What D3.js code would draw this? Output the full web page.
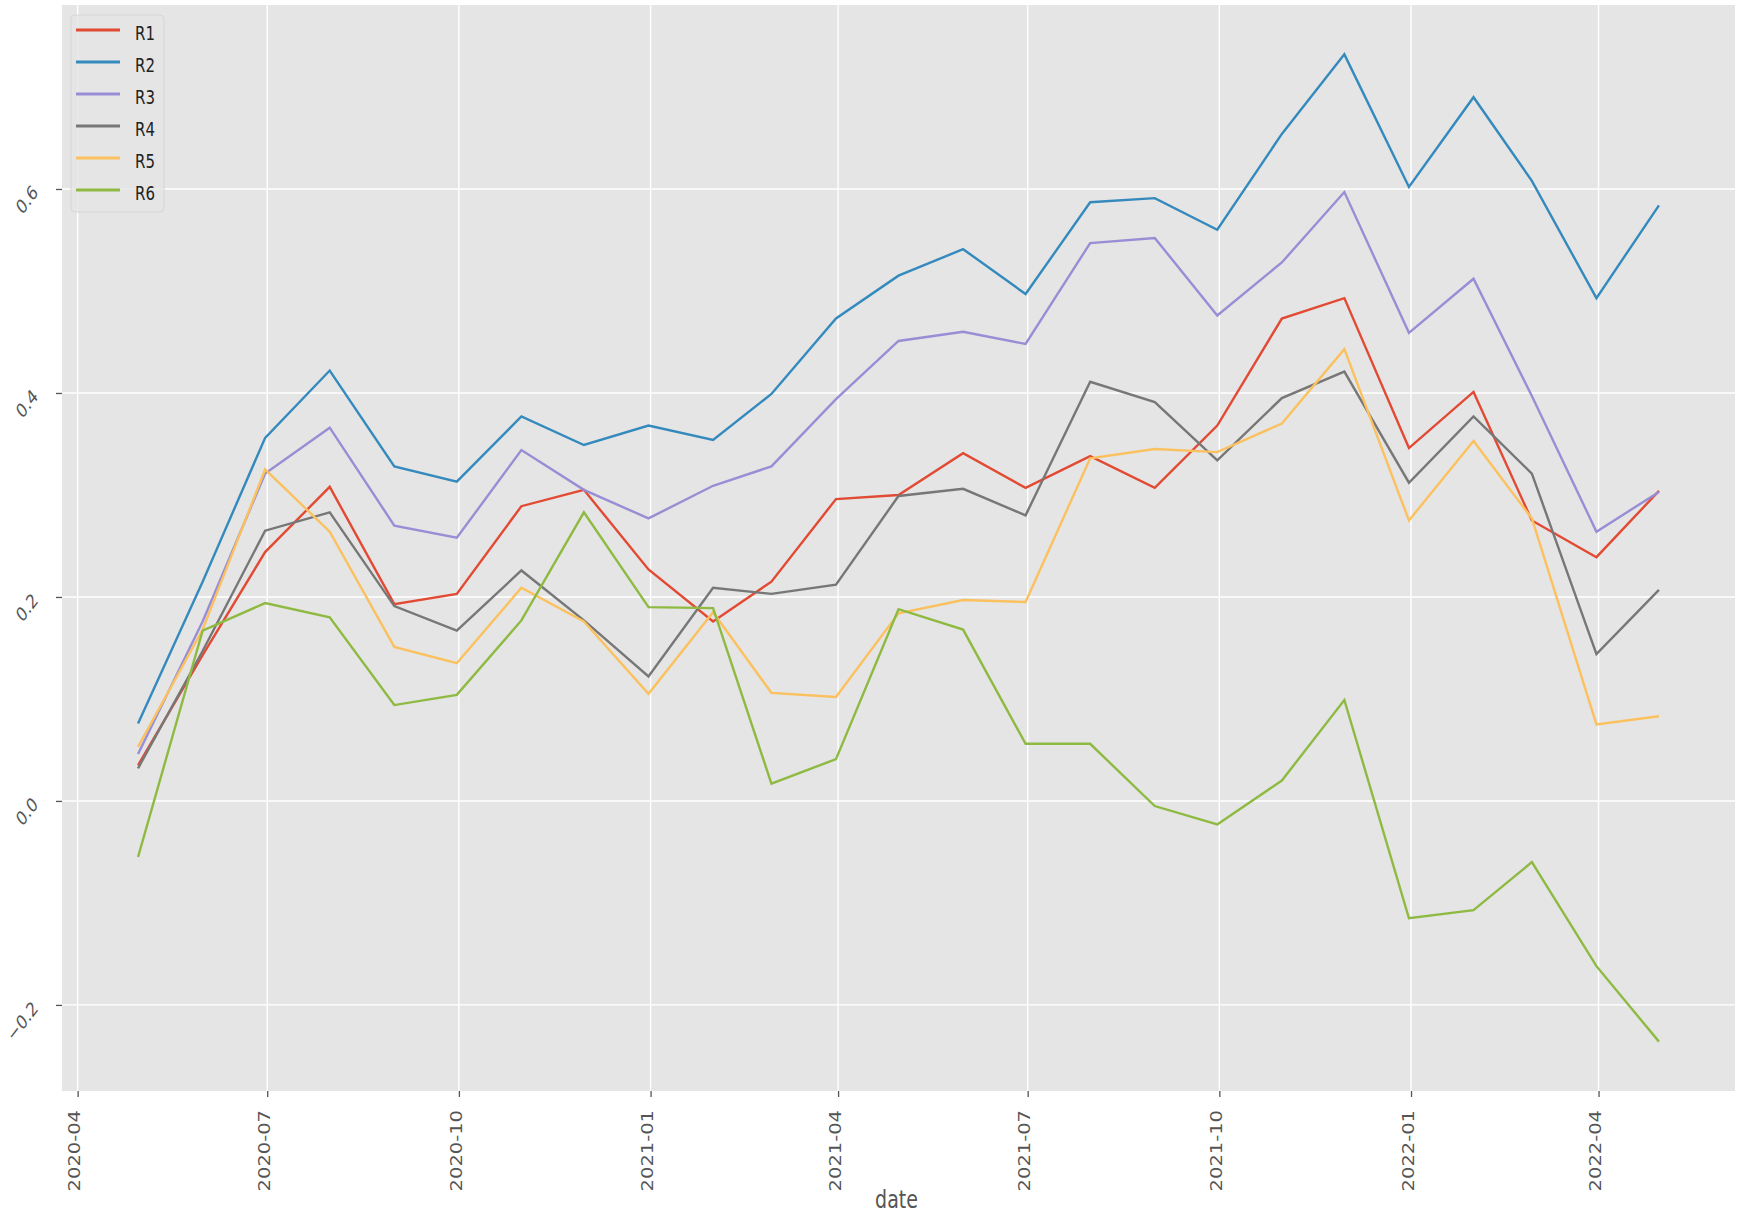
<!DOCTYPE html>
<html>
<head>
<meta charset="utf-8">
<script src="https://cdn.jsdelivr.net/npm/d3@7"></script>
<style>
  html, body { margin: 0; padding: 0; background: #ffffff; }
  svg { display: block; }
  text { font-family: "DejaVu Sans", sans-serif; }
</style>
</head>
<body>
<div id="chart"></div>
<script>
// ---------------- data ----------------
const dates = ["2020-04-30","2020-05-31","2020-06-30","2020-07-31","2020-08-31","2020-09-30",
  "2020-10-31","2020-11-30","2020-12-31","2021-01-31","2021-02-28","2021-03-31","2021-04-30",
  "2021-05-31","2021-06-30","2021-07-31","2021-08-31","2021-09-30","2021-10-31","2021-11-30",
  "2021-12-31","2022-01-31","2022-02-28","2022-03-31","2022-04-30"];

const seriesNames = ["R1","R2","R3","R4","R5","R6"];

const R1 = [0.035,0.143,0.244,0.308,0.193,0.203,0.289,0.305,0.227,0.176,0.215,0.296,0.300,
  0.341,0.307,0.338,0.307,0.368,0.473,0.493,0.346,0.401,0.275,0.239,0.304];
const R2 = [0.076,0.215,0.356,0.422,0.328,0.313,0.377,0.349,0.368,0.354,0.399,0.473,0.515,
  0.541,0.497,0.587,0.591,0.560,0.654,0.732,0.602,0.690,0.608,0.493,0.584];
const R3 = [0.046,0.176,0.321,0.366,0.270,0.258,0.344,0.305,0.277,0.309,0.328,0.394,0.451,
  0.460,0.448,0.547,0.552,0.476,0.528,0.597,0.459,0.512,0.397,0.264,0.303];
const R4 = [0.032,0.147,0.265,0.283,0.191,0.167,0.226,0.177,0.122,0.209,0.203,0.212,0.299,
  0.306,0.280,0.411,0.391,0.334,0.395,0.421,0.312,0.377,0.321,0.144,0.207];
const R5 = [0.053,0.168,0.325,0.264,0.151,0.135,0.209,0.176,0.105,0.185,0.106,0.102,0.184,
  0.197,0.195,0.336,0.345,0.342,0.370,0.443,0.275,0.353,0.277,0.075,0.083];
const R6 = [-0.055,0.167,0.194,0.180,0.094,0.104,0.177,0.283,0.190,0.189,0.017,0.041,0.188,
  0.168,0.056,0.056,-0.005,-0.023,0.020,0.099,-0.115,-0.107,-0.060,-0.162,-0.236];

const seriesValues = [R1, R2, R3, R4, R5, R6];
const colors = ["#E24A33","#348ABD","#988ED5","#777777","#FBC15E","#8EBA42"];

const xTickDates = ["2020-04-01","2020-07-01","2020-10-01","2021-01-01","2021-04-01",
  "2021-07-01","2021-10-01","2022-01-01","2022-04-01"];
const yTickValues = [-0.2, 0.0, 0.2, 0.4, 0.6];
const xLabel = "date";

// ---------------- layout ----------------
const W = 1746, H = 1220;
const plot = { left: 62, right: 1735, top: 5, bottom: 1091 };
const SY = 1.3; // vertical text stretch seen in the reference

const parse = d3.timeParse("%Y-%m-%d");
const xDates = dates.map(parse);

const svg = d3.select("#chart").append("svg")
  .attr("width", W).attr("height", H);

// scales with matplotlib-like 5% margins
const xExt = d3.extent(xDates);
const xPad = (xExt[1] - xExt[0]) * 0.05;
const x = d3.scaleTime()
  .domain([new Date(+xExt[0] - xPad), new Date(+xExt[1] + xPad)])
  .range([plot.left, plot.right]);

const allVals = seriesValues.flat();
const yMin = d3.min(allVals), yMax = d3.max(allVals);
const yPad = (yMax - yMin) * 0.05;
const y = d3.scaleLinear()
  .domain([yMin - yPad, yMax + yPad])
  .range([plot.bottom, plot.top]);

// background
svg.append("rect")
  .attr("x", plot.left).attr("y", plot.top)
  .attr("width", plot.right - plot.left).attr("height", plot.bottom - plot.top)
  .attr("fill", "#E5E5E5");

const xTicks = xTickDates.map(parse);

// grid
const grid = svg.append("g");
grid.selectAll("line.gx").data(xTicks).enter().append("line")
  .attr("x1", d => x(d)).attr("x2", d => x(d))
  .attr("y1", plot.top).attr("y2", plot.bottom)
  .attr("stroke", "#ffffff").attr("stroke-width", 1.4);
grid.selectAll("line.gy").data(yTickValues).enter().append("line")
  .attr("y1", d => y(d)).attr("y2", d => y(d))
  .attr("x1", plot.left).attr("x2", plot.right)
  .attr("stroke", "#ffffff").attr("stroke-width", 1.4);

// lines
const line = d3.line()
  .x((d, i) => x(xDates[i]))
  .y(d => y(d));

const clipId = "plotclip";
svg.append("clipPath").attr("id", clipId).append("rect")
  .attr("x", plot.left).attr("y", plot.top)
  .attr("width", plot.right - plot.left).attr("height", plot.bottom - plot.top);

svg.append("g").attr("clip-path", `url(#${clipId})`)
  .selectAll("path").data(seriesValues).enter().append("path")
  .attr("d", d => line(d))
  .attr("fill", "none")
  .attr("stroke", (d, i) => colors[i])
  .attr("stroke-width", 2.4)
  .attr("stroke-linejoin", "miter")
  .attr("stroke-linecap", "butt");

// x axis
const xAxis = d3.axisBottom(x)
  .tickValues(xTicks)
  .tickFormat(d3.timeFormat("%Y-%m"))
  .tickSize(6)
  .tickPadding(0);
const gx = svg.append("g").attr("transform", `translate(0,${plot.bottom})`).call(xAxis);
gx.select(".domain").remove();
gx.selectAll(".tick line").attr("stroke", "#555555").attr("stroke-width", 1.3);
gx.selectAll(".tick text")
  .attr("x", 0).attr("y", 0).attr("dy", "0.35em")
  .attr("text-anchor", "end")
  .attr("transform", `translate(-3,19) scale(1,${SY}) rotate(-90)`)
  .attr("fill", "#555555")
  .style("font-size", "15px")
  .style("font-family", "'DejaVu Sans', sans-serif");

// y axis
const yAxis = d3.axisLeft(y)
  .tickValues(yTickValues)
  .tickFormat(d => d3.format(".1f")(d).replace("-", "\u2212"))
  .tickSize(6)
  .tickPadding(0);
const gy = svg.append("g").attr("transform", `translate(${plot.left},0)`).call(yAxis);
gy.select(".domain").remove();
gy.selectAll(".tick line").attr("stroke", "#555555").attr("stroke-width", 1.3);
gy.selectAll(".tick text")
  .attr("x", 0).attr("y", 0).attr("dy", 0)
  .attr("text-anchor", "end")
  .attr("transform", `translate(-23,4) scale(1,${SY}) rotate(-45)`)
  .attr("fill", "#555555")
  .style("font-size", "15px")
  .style("font-family", "'DejaVu Sans', sans-serif");

// x label
svg.append("text")
  .attr("transform", `translate(${(plot.left + plot.right) / 2 - 2},1208) scale(1,${SY})`)
  .attr("text-anchor", "middle")
  .attr("fill", "#555555")
  .style("font-size", "19px")
  .text(xLabel);

// legend
const lg = svg.append("g");
lg.append("rect")
  .attr("x", 71).attr("y", 15).attr("width", 93).attr("height", 197)
  .attr("rx", 4).attr("ry", 4)
  .attr("fill", "#E5E5E5").attr("fill-opacity", 0.8)
  .attr("stroke", "#D6D6D6").attr("stroke-width", 1);
const items = lg.selectAll("g.item").data(seriesNames).enter().append("g")
  .attr("transform", (d, i) => `translate(0,${30 + i * 32})`);
items.append("line")
  .attr("x1", 76).attr("x2", 120).attr("y1", 0).attr("y2", 0)
  .attr("stroke", (d, i) => colors[i]).attr("stroke-width", 2.8);
items.append("text")
  .attr("transform", `translate(135,10) scale(1,${SY})`)
  .attr("fill", "#222222")
  .style("font-size", "15px")
  .text(d => d);
</script>
</body>
</html>
